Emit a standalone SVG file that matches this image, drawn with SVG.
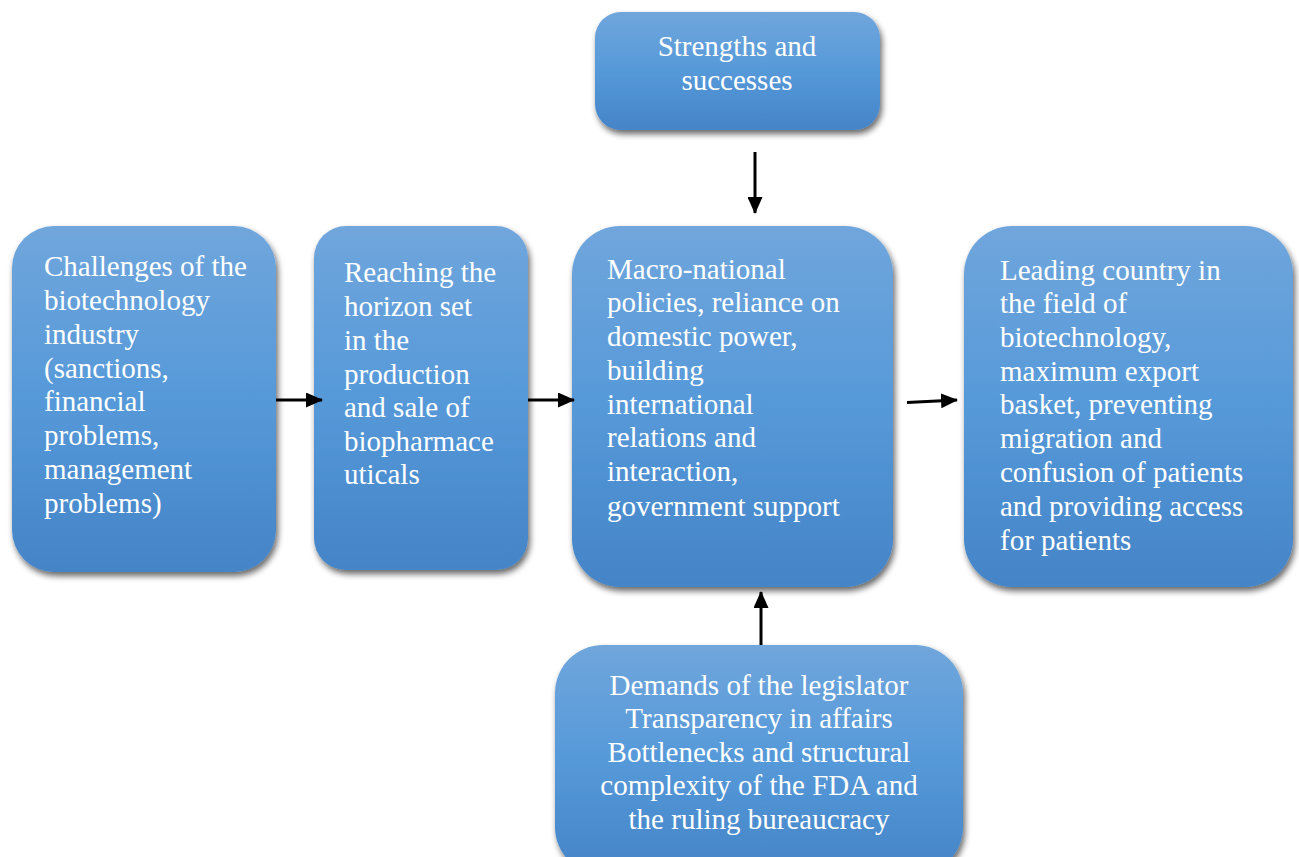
<svg xmlns="http://www.w3.org/2000/svg" width="1299" height="857" viewBox="0 0 1299 857">
<defs>
<linearGradient id="g" x1="0" y1="0" x2="0" y2="1">
<stop offset="0" stop-color="#70a6dc"/>
<stop offset="0.5" stop-color="#5699d9"/>
<stop offset="1" stop-color="#4484c7"/>
</linearGradient>
<filter id="sh" x="-10%" y="-10%" width="125%" height="125%">
<feGaussianBlur in="SourceAlpha" stdDeviation="3"/>
<feOffset dx="2" dy="4" result="b"/>
<feComponentTransfer><feFuncA type="linear" slope="0.6"/></feComponentTransfer>
<feMerge><feMergeNode/><feMergeNode in="SourceGraphic"/></feMerge>
</filter>
<marker id="ah" viewBox="0 0 17 15" refX="16" refY="7.5" markerWidth="17" markerHeight="15" markerUnits="userSpaceOnUse" orient="auto">
<path d="M0,0 L17,7.5 L0,15 z" fill="#000"/>
</marker>
</defs>
<style>
.box{fill:url(#g);filter:url(#sh);}
text{font-family:"Liberation Serif","Times New Roman",serif;font-size:29px;fill:#fff;}
.c{text-anchor:middle;}
.conn line{stroke:#000;stroke-width:3;marker-end:url(#ah);}
</style>
<rect width="1299" height="857" fill="#fff"/>
<g id="strengths">
<rect class="box" x="595" y="12" width="285" height="118" rx="26"/>
<text class="c" x="737" y="56">Strengths and</text>
<text class="c" x="737" y="90">successes</text>
</g>
<g id="challenges">
<rect class="box" x="12" y="226" width="264" height="346" rx="42"/>
<text x="44" y="276">Challenges of the</text>
<text x="44" y="310">biotechnology</text>
<text x="44" y="344">industry</text>
<text x="44" y="378">(sanctions,</text>
<text x="44" y="411">financial</text>
<text x="44" y="445">problems,</text>
<text x="44" y="479">management</text>
<text x="44" y="513">problems)</text>
</g>
<g id="reaching">
<rect class="box" x="314" y="226" width="214" height="344" rx="32"/>
<text x="344" y="282">Reaching the</text>
<text x="344" y="316">horizon set</text>
<text x="344" y="350">in the</text>
<text x="344" y="384">production</text>
<text x="344" y="417">and sale of</text>
<text x="344" y="451">biopharmace</text>
<text x="344" y="484">uticals</text>
</g>
<g id="macro">
<rect class="box" x="572" y="226" width="321" height="361" rx="48"/>
<text x="607" y="279">Macro-national</text>
<text x="607" y="312">policies, reliance on</text>
<text x="607" y="346">domestic power,</text>
<text x="607" y="380">building</text>
<text x="607" y="414">international</text>
<text x="607" y="447">relations and</text>
<text x="607" y="481">interaction,</text>
<text x="607" y="516">government support</text>
</g>
<g id="leading">
<rect class="box" x="964" y="226" width="329" height="361" rx="48"/>
<text x="1000" y="280">Leading country in</text>
<text x="1000" y="313">the field of</text>
<text x="1000" y="347">biotechnology,</text>
<text x="1000" y="381">maximum export</text>
<text x="1000" y="414">basket, preventing</text>
<text x="1000" y="448">migration and</text>
<text x="1000" y="482">confusion of patients</text>
<text x="1000" y="516">and providing access</text>
<text x="1000" y="550">for patients</text>
</g>
<g id="demands">
<rect class="box" x="555" y="645" width="408" height="230" rx="48"/>
<text class="c" x="759" y="695">Demands of the legislator</text>
<text class="c" x="759" y="728">Transparency in affairs</text>
<text class="c" x="759" y="762">Bottlenecks and structural</text>
<text class="c" x="759" y="795">complexity of the FDA and</text>
<text class="c" x="759" y="829">the ruling bureaucracy</text>
</g>
<g id="connectors" class="conn">
<line x1="276" y1="400" x2="322" y2="400"/>
<line x1="528" y1="400" x2="574" y2="400"/>
<line x1="907" y1="402.5" x2="957" y2="400"/>
<line x1="755" y1="152" x2="755" y2="213"/>
<line x1="761" y1="645" x2="761" y2="592"/>
</g>
</svg>
